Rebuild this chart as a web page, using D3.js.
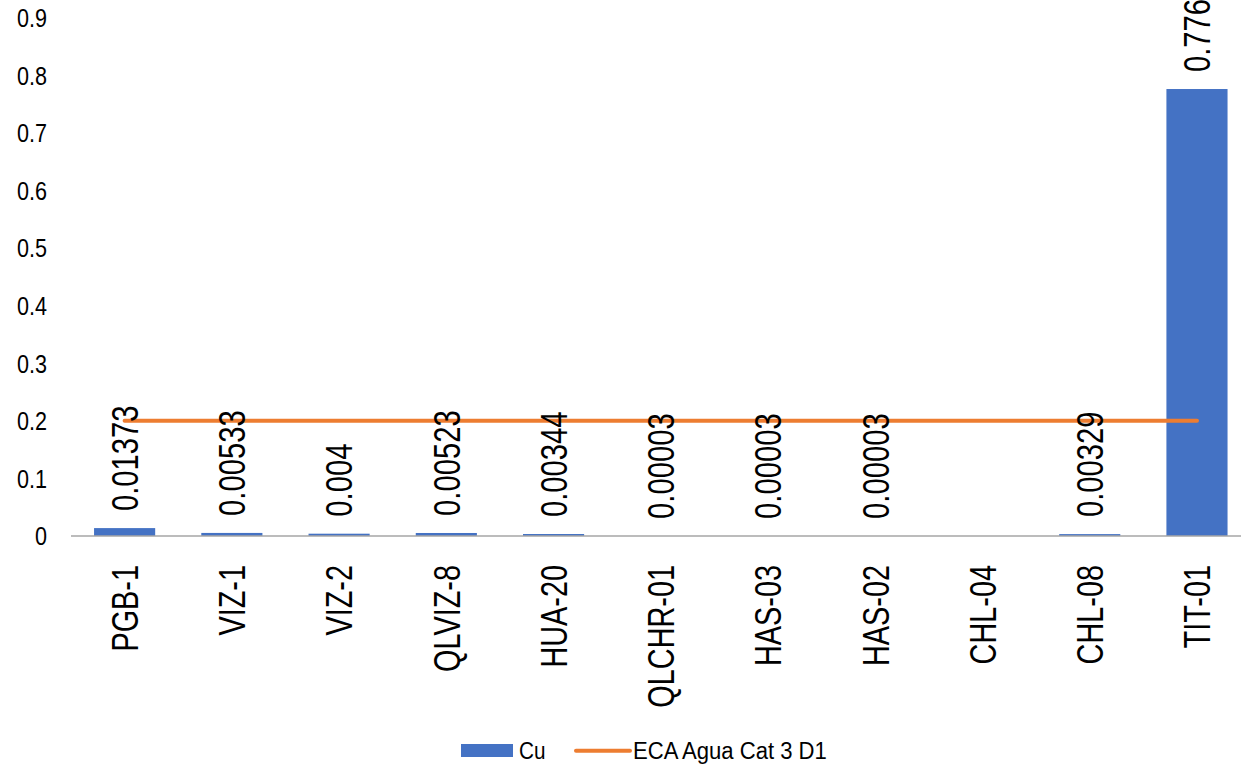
<!DOCTYPE html>
<html><head><meta charset="utf-8">
<script src="https://cdn.jsdelivr.net/npm/d3@7"></script>
<style>
body{margin:0;background:#fff;}
svg text{font-family:"Liberation Sans Narrow","Arial Narrow","Liberation Sans",Arial,sans-serif;fill:#000;}
</style></head>
<body>
<svg id="c" width="1241" height="767"></svg>
<script>
const categories = ["PGB-1","VIZ-1","VIZ-2","QLVIZ-8","HUA-20","QLCHR-01","HAS-03","HAS-02","CHL-04","CHL-08","TIT-01"];
const cuValues = [0.01373,0.00533,0.004,0.00523,0.00344,0.00003,0.00003,0.00003,null,0.00329,0.776];
const cuLabels = ["0.01373","0.00533","0.004","0.00523","0.00344","0.00003","0.00003","0.00003",null,"0.00329","0.776"];
const ecaValues = [0.2,0.2,0.2,0.2,0.2,0.2,0.2,0.2,0.2,0.2,0.2];
const yTicks = [0,0.1,0.2,0.3,0.4,0.5,0.6,0.7,0.8,0.9];
const yTickLabels = ["0","0.1","0.2","0.3","0.4","0.5","0.6","0.7","0.8","0.9"];

const svg = d3.select("#c");
const x = d3.scaleBand().domain(categories).range([71,1250.6]).paddingInner(0.43).paddingOuter(0.215);
const y = d3.scaleLinear().domain([0,0.9]).range([536,17.6]);

// y tick labels
svg.append("g").selectAll("text").data(yTicks).join("text")
  .attr("transform",d=>`translate(47,${y(d)}) scale(0.83,1)`)
  .attr("dy","0.36em")
  .attr("text-anchor","end").style("font-size","26px")
  .text((d,i)=>yTickLabels[i]);

// bars
const data = categories.map((c,i)=>({c,v:cuValues[i],l:cuLabels[i],e:ecaValues[i]}));
svg.append("g").selectAll("rect").data(data.filter(d=>d.v!=null)).join("rect")
  .attr("x",d=>x(d.c)).attr("width",x.bandwidth())
  .attr("y",d=>y(d.v)).attr("height",d=>y(0)-y(d.v))
  .attr("fill","#4472C4");

// axis line
svg.append("line").attr("x1",71).attr("x2",1241).attr("y1",y(0)).attr("y2",y(0))
  .attr("stroke","#A6A6A6").attr("stroke-width",1.5);

// ECA line
const line = d3.line().x(d=>x(d.c)+x.bandwidth()/2).y(d=>y(d.e));
svg.append("path").datum(data).attr("d",line).attr("fill","none")
  .attr("stroke","#ED7D31").attr("stroke-width",4).attr("stroke-linecap","round");

// data labels
svg.append("g").selectAll("text").data(data.filter(d=>d.l!=null)).join("text")
  .attr("transform",d=>`translate(${x(d.c)+x.bandwidth()/2},${y(d.v)-17}) rotate(-90) scale(0.79,1)`)
  .attr("dy","0.36em").attr("text-anchor","start").style("font-size","37px")
  .text(d=>d.l);

// category labels
svg.append("g").selectAll("text").data(categories).join("text")
  .attr("transform",d=>`translate(${x(d)+x.bandwidth()/2},${565}) rotate(-90) scale(0.78,1)`)
  .attr("dy","0.36em").attr("text-anchor","end").style("font-size","37px")
  .text(d=>d);

// legend
const lg = svg.append("g");
lg.append("rect").attr("x",461).attr("y",744).attr("width",52).attr("height",13).attr("fill","#4472C4");
lg.append("text").attr("transform","translate(519,758.5) scale(0.9,1)").style("font-size","23px").text("Cu");
lg.append("line").attr("x1",576).attr("x2",630).attr("y1",750.7).attr("y2",750.7)
  .attr("stroke","#ED7D31").attr("stroke-width",4).attr("stroke-linecap","round");
lg.append("text").attr("transform","translate(633,758.5) scale(0.96,1)").style("font-size","23px").text("ECA Agua Cat 3 D1");
</script>
</body></html>
